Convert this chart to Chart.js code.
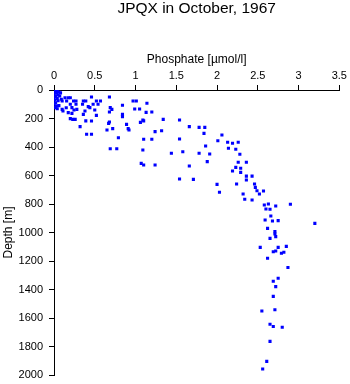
<!DOCTYPE html>
<html>
<head>
<meta charset="utf-8">
<script src="https://cdn.jsdelivr.net/npm/chart.js@4"></script>
<style>
  html, body { margin: 0; padding: 0; background: #fff; }
  #wrap { width: 350px; height: 384px; }
</style>
</head>
<body>
<div id="wrap"><canvas id="profile" width="350" height="384"></canvas></div>
<script>
const chartTitle = "JPQX in October, 1967";
const xLabel = "Phosphate [\u00b5mol/l]";
const yLabel = "Depth [m]";

// phosphate (umol/l) and depth (m) of each sample
const phosphate = [
    0.00, 0.02, 0.04, 0.01, 0.06, 0.03, 0.08, 0.00, 0.05, 0.02, 0.07, 0.00, 0.04, 0.01, 0.09, 0.05,
    0.02, 0.00, 0.03, 0.02, 0.04, 0.06, 0.15, 0.135, 0.175, 0.20, 0.155, 0.10, 0.24, 0.27, 0.36, 0.39,
    0.46, 0.52, 0.57, 0.68, 0.97, 1.01, 1.14, 0.10, 0.11, 0.175, 0.22, 0.20, 0.22, 0.245, 0.28, 0.27,
    0.20, 0.23, 0.26, 0.38, 0.36, 0.44, 0.48, 0.50, 0.52, 0.46, 0.32, 0.40, 0.46, 0.54, 0.35, 0.42,
    0.39, 0.69, 0.71, 0.68, 0.68, 0.67, 0.72, 0.65, 0.84, 0.84, 0.84, 0.89, 0.91, 0.92, 0.79, 0.69,
    0.77, 0.99, 1.05, 1.13, 1.20, 1.06, 1.09, 1.10, 1.24, 1.10, 1.20, 1.09, 1.07, 1.10, 1.24, 1.34,
    1.54, 1.66, 1.78, 1.85, 1.32, 1.84, 2.06, 1.54, 2.01, 2.13, 2.19, 2.26, 1.86, 2.14, 2.23, 1.58,
    1.44, 1.78, 1.91, 2.28, 1.66, 1.88, 2.26, 2.36, 2.23, 2.29, 2.29, 2.19, 1.54, 1.71, 2.00, 2.03,
    2.24, 2.36, 2.43, 2.36, 2.46, 2.47, 2.49, 2.52, 2.57, 2.32, 2.34, 2.43, 2.58, 2.63, 2.60, 2.65,
    2.72, 2.90, 2.66, 2.59, 2.68, 2.75, 3.20, 2.62, 2.71, 2.71, 2.72, 2.65, 2.53, 2.75, 2.85, 2.69,
    2.72, 2.79, 2.82, 2.62, 2.87, 2.75, 2.69, 2.72, 2.69, 2.55, 2.71, 2.65, 2.69, 2.80, 2.65, 2.61,
    2.56
];
const depth = [
    0, 3, 8, 12, 15, 22, 20, 28, 35, 45, 42, 55, 60, 70, 65, 75,
    90, 100, 112, 124, 132, 110, 125, 54, 54, 54, 77, 77, 77, 77, 77, 77,
    49, 77, 77, 49, 77, 77, 93, 136, 147, 159, 164, 100, 124, 140, 136, 100,
    201, 206, 206, 147, 171, 124, 100, 140, 178, 218, 257, 311, 311, 100, 100, 117,
    217, 124, 136, 154, 225, 234, 271, 281, 107, 171, 187, 241, 271, 281, 335, 412,
    412, 133, 133, 157, 154, 227, 211, 217, 292, 346, 346, 421, 515, 526, 526, 206,
    211, 257, 262, 262, 286, 304, 316, 344, 356, 367, 374, 367, 393, 409, 416, 433,
    444, 444, 449, 451, 533, 503, 507, 507, 543, 549, 578, 568, 625, 627, 662, 718,
    660, 604, 604, 632, 660, 683, 707, 730, 709, 730, 767, 772, 807, 800, 835, 837,
    814, 802, 884, 912, 919, 917, 936, 971, 994, 1011, 1029, 1041, 1104, 1104, 1097, 1135,
    1130, 1146, 1139, 1181, 1246, 1321, 1342, 1380, 1448, 1551, 1542, 1644, 1660, 1665, 1764, 1904,
    1958
];

const xMin = 0, xMax = 3.5, xStep = 0.5;
const yMin = 0, yMax = 2000, yStep = 200;

const points = phosphate.map((p, i) => ({ x: p, y: depth[i] }));

const FONT = "'Liberation Sans', Arial, Helvetica, sans-serif";

new Chart(document.getElementById("profile"), {
    type: "scatter",
    data: {
        datasets: [{
            data: points,
            pointStyle: "rect",
            pointRadius: 2.2,
            pointBorderWidth: 0,
            backgroundColor: "#0000ff",
            borderColor: "#0000ff"
        }]
    },
    options: {
        responsive: false,
        animation: false,
        devicePixelRatio: 1,
        layout: { padding: { left: 0, right: 10.7, top: 0, bottom: 9 } },
        plugins: {
            legend: { display: false },
            tooltip: { enabled: false },
            title: {
                display: true,
                text: chartTitle,
                fullSize: false,
                color: "#000",
                font: { family: FONT, size: 15.5, weight: "normal", lineHeight: "17px" },
                padding: { top: 0, bottom: 0 }
            }
        },
        scales: {
            x: {
                type: "linear",
                position: "top",
                min: xMin,
                max: xMax,
                afterFit: s => { s.height = 73; },
                border: { display: true, color: "#000", width: 1 },
                grid: { drawOnChartArea: false, drawTicks: true, tickLength: 5, color: "#000" },
                ticks: {
                    stepSize: xStep,
                    color: "#000",
                    padding: 2,
                    maxRotation: 0,
                    autoSkip: false,
                    font: { family: FONT, size: 11 },
                    callback: v => String(v)
                },
                title: {
                    display: true,
                    text: xLabel,
                    color: "#000",
                    font: { family: FONT, size: 12 },
                    padding: { top: 35.4, bottom: 0 }
                }
            },
            y: {
                type: "linear",
                position: "left",
                reverse: true,
                min: yMin,
                max: yMax,
                afterFit: s => {
                    s.width = 54;
                    s.paddingTop = 0;
                    s.paddingBottom = 0;
                },
                border: { display: true, color: "#000", width: 1 },
                grid: { drawOnChartArea: false, drawTicks: true, tickLength: 5, color: "#000" },
                ticks: {
                    stepSize: yStep,
                    color: "#000",
                    padding: 6,
                    autoSkip: false,
                    font: { family: FONT, size: 11 },
                    callback: v => String(v)
                },
                title: {
                    display: true,
                    text: yLabel,
                    color: "#000",
                    font: { family: FONT, size: 12 },
                    padding: { top: 1, bottom: 0 }
                }
            }
        }
    }
});
</script>
</body>
</html>
